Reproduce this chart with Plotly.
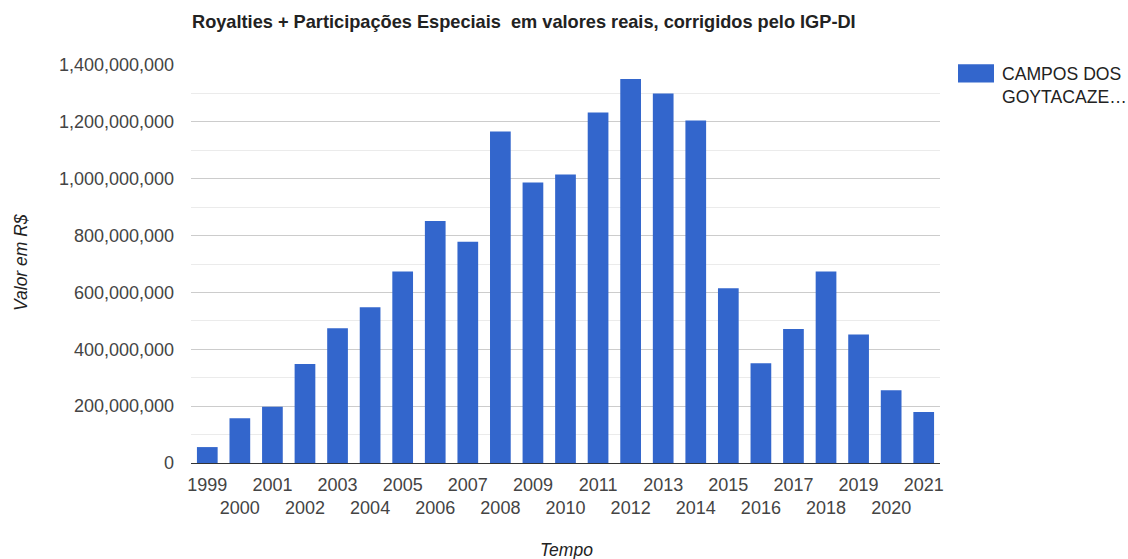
import plotly.graph_objects as go

years = [str(y) for y in range(1999, 2022)]
values = [56e6, 157e6, 198e6, 348e6, 474e6, 548e6, 674e6, 851e6, 778e6, 1166e6,
          987e6, 1015e6, 1233e6, 1351e6, 1300e6, 1205e6, 615e6, 351e6, 471e6,
          674e6, 452e6, 256e6, 179e6]
series_name = "CAMPOS DOS GOYTACAZES"
legend_label = "CAMPOS DOS<br>GOYTACAZE…"
title_text = "Royalties + Participações Especiais  em valores reais, corrigidos pelo IGP-DI"
tick_text = [y if i % 2 == 0 else "<br>" + y for i, y in enumerate(years)]
bar_color = "#3366cc"

FONT = "Arial, 'Liberation Sans', sans-serif"

fig = go.Figure()
fig.add_trace(go.Bar(x=years, y=values, name=series_name, marker_color=bar_color,
                     marker_line_width=0, showlegend=False))

W, H = 1128, 559
L, R, T, B = 191, 188, 64.7, 95.7

fig.update_layout(
    width=W, height=H,
    margin=dict(l=L, r=R, t=T, b=B, autoexpand=False),
    paper_bgcolor="white", plot_bgcolor="white",
    font=dict(family=FONT, size=18, color="#444"),
    bargap=0.364,
    title=dict(text="<b>" + title_text + "</b>", xref="container", yref="container",
               x=192 / W, xanchor="left", y=1 - 22 / H, yanchor="middle",
               font=dict(family=FONT, size=18.2, color="#222")),
    xaxis=dict(type="category", tickmode="array", tickvals=years, ticktext=tick_text,
               showgrid=False, ticks="", tickangle=0,
               tickfont=dict(size=18, color="#444"),
               ticklabelstandoff=9, fixedrange=True),
    yaxis=dict(range=[0, 1.4e9], dtick=2e8, tick0=0, tickformat=",d",
               showgrid=True, gridcolor="#cccccc", gridwidth=1,
               zeroline=True, zerolinecolor="#333333", zerolinewidth=1,
               minor=dict(dtick=1e8, showgrid=True, gridcolor="#ebebeb", gridwidth=1),
               ticks="", tickfont=dict(size=18, color="#444"),
               ticklabelstandoff=16, fixedrange=True),
)

ph = H - T - B
pw = W - L - R
def px_x(x):
    return (x - L) / pw
def px_y(y):
    return (H - B - y) / ph

# Axis titles
fig.add_annotation(text="<i>Tempo</i>", xref="paper", yref="paper",
                   x=px_x(566), y=px_y(550), xanchor="center", yanchor="middle",
                   showarrow=False, font=dict(family=FONT, size=17.5, color="#222"))
fig.add_annotation(text="<i>Valor em R$</i>", xref="paper", yref="paper",
                   x=px_x(21), y=px_y(263), xanchor="center", yanchor="middle",
                   textangle=-90, showarrow=False,
                   font=dict(family=FONT, size=17.5, color="#222"))

# Legend (manual)
fig.add_shape(type="rect", xref="paper", yref="paper",
              x0=px_x(958), x1=px_x(994), y0=px_y(82.3), y1=px_y(64),
              fillcolor=bar_color, line_width=0)
fig.add_annotation(text=legend_label, xref="paper", yref="paper",
                   x=px_x(1000), y=px_y(62), xanchor="left", yanchor="top",
                   align="left", showarrow=False,
                   font=dict(family=FONT, size=17.6, color="#222"))

fig.write_html("out.html", config={"displayModeBar": False})
